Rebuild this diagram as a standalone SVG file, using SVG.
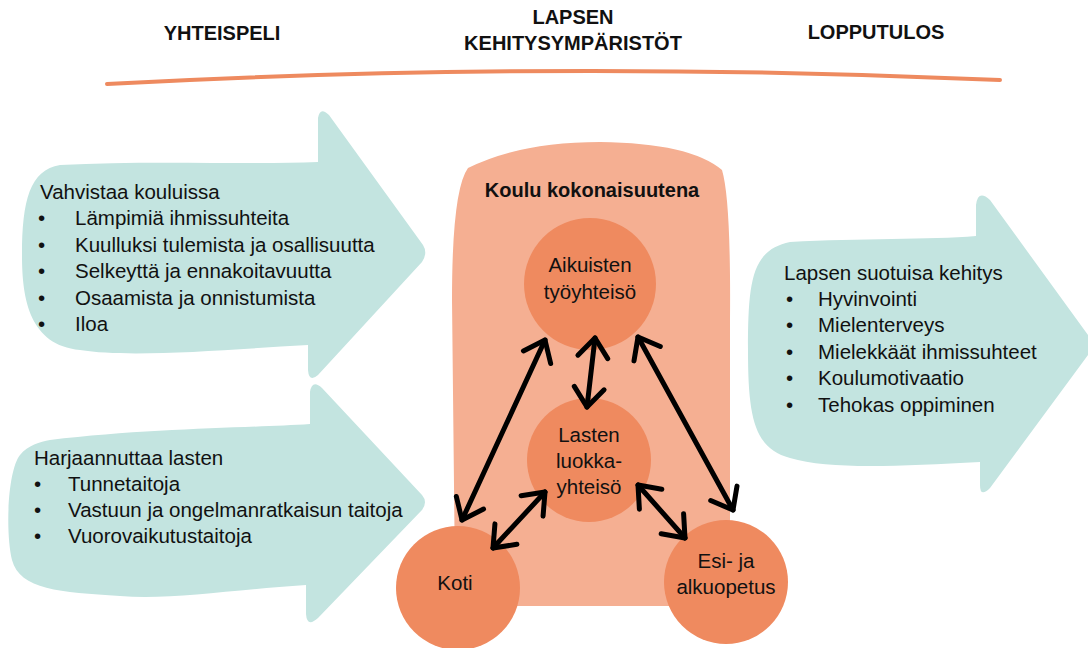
<svg xmlns="http://www.w3.org/2000/svg" width="1088" height="648" viewBox="0 0 1088 648">
<style>
.hdr{font-family:"Liberation Sans",Arial,sans-serif;font-weight:bold;font-size:20px;fill:#111;text-anchor:middle}
.txt{font-family:"Liberation Sans",Arial,sans-serif;font-size:20.5px;fill:#111}
.lbl{font-family:"Liberation Sans",Arial,sans-serif;font-size:20.5px;fill:#111;text-anchor:middle}
.bold{font-weight:bold;font-size:20px}
.teal{fill:#C3E4E0}
.circ{fill:#EF8A5F}
.conn{stroke:#000;stroke-width:5;fill:none;stroke-linecap:round;marker-start:url(#chev);marker-end:url(#chev)}
</style>
<defs>
<marker id="chev" viewBox="-24 -20 30 40" markerWidth="30" markerHeight="40" refX="0" refY="0" orient="auto-start-reverse" markerUnits="userSpaceOnUse">
<path d="M-19,-15 L0,0 L-19,15" fill="none" stroke="#000" stroke-width="5" stroke-linecap="round" stroke-linejoin="round"/>
</marker>
</defs>
<rect width="1088" height="648" fill="#fff"/>

<g id="headers">
<text class="hdr" x="222" y="40">YHTEISPELI</text>
<text class="hdr" x="573" y="24">LAPSEN</text>
<text class="hdr" x="573" y="50">KEHITYSYMPÄRISTÖT</text>
<text class="hdr" x="876" y="39">LOPPUTULOS</text>
<path d="M107,84 Q550,60 1000,80" fill="none" stroke="#EE8A5F" stroke-width="4" stroke-linecap="round"/>
</g>

<g id="arrow-vahvistaa">
<path class="teal" d="M60,165 C150,160 250,165 318,162 L318,118 Q320,106 329,115 L423,245 Q428,253 422,262 L318,375 Q309,383 308,370 L308,345 C220,350 130,358 80,350 C30,345 22,300 22,255 C22,200 30,170 60,165 Z"/>
<text class="txt" x="40" y="199">Vahvistaa kouluissa</text>
<text class="txt" x="38" y="225">•</text><text class="txt" x="75" y="225">Lämpimiä ihmissuhteita</text>
<text class="txt" x="38" y="252">•</text><text class="txt" x="75" y="252">Kuulluksi tulemista ja osallisuutta</text>
<text class="txt" x="38" y="278">•</text><text class="txt" x="75" y="278">Selkeyttä ja ennakoitavuutta</text>
<text class="txt" x="38" y="305">•</text><text class="txt" x="75" y="305">Osaamista ja onnistumista</text>
<text class="txt" x="38" y="331">•</text><text class="txt" x="75" y="331">Iloa</text>
</g>

<g id="arrow-harjaannuttaa">
<path class="teal" d="M50,440 C150,428 250,428 310,424 L310,392 Q312,379 322,388 L422,495 Q428,502 422,510 L318,618 Q307,628 306,614 L306,585 C230,590 170,600 120,596 C60,592 20,590 12,560 C5,530 8,470 20,455 C28,445 40,442 50,440 Z"/>
<text class="txt" x="34" y="465">Harjaannuttaa lasten</text>
<text class="txt" x="34" y="491">•</text><text class="txt" x="68" y="491">Tunnetaitoja</text>
<text class="txt" x="34" y="517">•</text><text class="txt" x="68" y="517">Vastuun ja ongelmanratkaisun taitoja</text>
<text class="txt" x="34" y="543">•</text><text class="txt" x="68" y="543">Vuorovaikutustaitoja</text>
</g>

<g id="arrow-lopputulos">
<path class="teal" d="M790,242 C860,238 930,240 976,236 L976,205 Q978,189 990,200 L1088,335 L1088,355 L990,488 Q980,498 980,485 L980,462 C900,466 830,470 790,458 C755,448 748,420 748,350 C748,280 752,250 790,242 Z"/>
<text class="txt" x="784" y="280">Lapsen suotuisa kehitys</text>
<text class="txt" x="786" y="306">•</text><text class="txt" x="818" y="306">Hyvinvointi</text>
<text class="txt" x="786" y="332">•</text><text class="txt" x="818" y="332">Mielenterveys</text>
<text class="txt" x="786" y="359">•</text><text class="txt" x="818" y="359">Mielekkäät ihmissuhteet</text>
<text class="txt" x="786" y="385">•</text><text class="txt" x="818" y="385">Koulumotivaatio</text>
<text class="txt" x="786" y="412">•</text><text class="txt" x="818" y="412">Tehokas oppiminen</text>
</g>

<g id="koulu">
<path fill="#F5AF92" d="M468,168 Q520,142 600,142 Q690,143 722,170 Q731,200 730,320 L730,578 Q729,604 700,606 L488,606 Q456,604 455,578 L452,300 Q452,190 468,168 Z"/>
<text class="lbl bold" x="592" y="197">Koulu kokonaisuutena</text>
</g>

<g id="aikuisten">
<circle class="circ" cx="590" cy="284" r="66"/>
<text class="lbl" x="590" y="272">Aikuisten</text>
<text class="lbl" x="590" y="299">työyhteisö</text>
</g>

<g id="lasten">
<circle class="circ" cx="589" cy="460" r="62"/>
<text class="lbl" x="589" y="442">Lasten</text>
<text class="lbl" x="589" y="468">luokka-</text>
<text class="lbl" x="589" y="494">yhteisö</text>
</g>

<g id="koti">
<circle class="circ" cx="458" cy="588" r="62"/>
<text class="lbl" x="455" y="590">Koti</text>
</g>

<g id="esi">
<circle class="circ" cx="726" cy="582" r="62"/>
<text class="lbl" x="726" y="568">Esi- ja</text>
<text class="lbl" x="726" y="594">alkuopetus</text>
</g>

<g id="connectors">
<path class="conn" d="M545,340 L462,520"/>
<path class="conn" d="M595,338 L587,407"/>
<path class="conn" d="M638,337 L733,510"/>
<path class="conn" d="M545,492 L493,548"/>
<path class="conn" d="M638,485 L685,538"/>
</g>
</svg>
